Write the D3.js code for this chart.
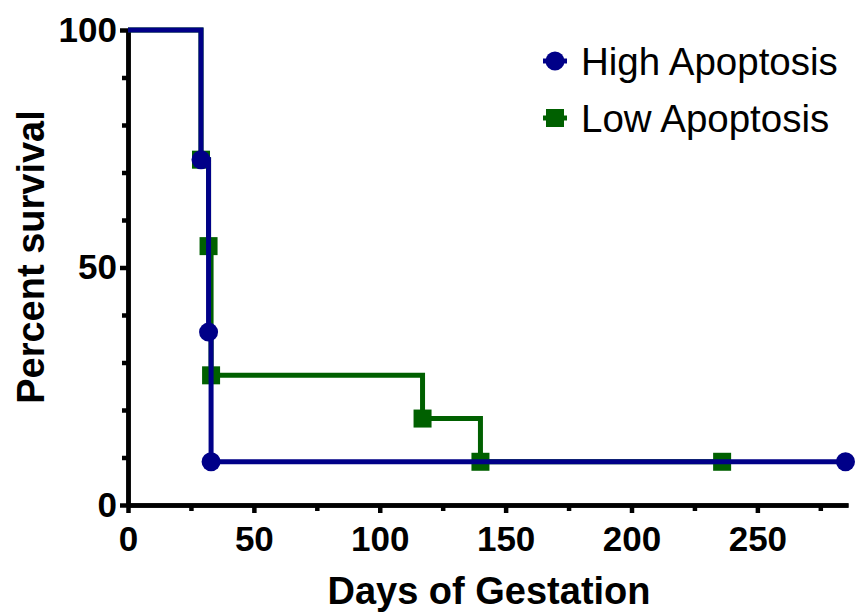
<!DOCTYPE html>
<html>
<head>
<meta charset="utf-8">
<script src="https://cdn.jsdelivr.net/npm/d3@7"></script>
<style>
  html, body { margin: 0; padding: 0; background: #fff; }
  svg { display: block; }
</style>
</head>
<body>
<svg id="chart" width="858" height="615"></svg>
<script>
// ---- Data ----
const seriesNames = ["High Apoptosis", "Low Apoptosis"];
const highDays = [0, 29, 32, 33, 285];
const highSurvival = [100, 72.7, 36.4, 9.1, 9.1];
const lowDays = [0, 29, 32, 33, 117, 140, 236];
const lowSurvival = [100, 72.7, 54.5, 27.3, 18.2, 9.1, 9.1];
const xMajorTicks = [0, 50, 100, 150, 200, 250];
const xMinorTicks = [25, 75, 125, 175, 225, 275];
const yMajorTicks = [0, 50, 100];
const yMinorTicks = [10, 20, 30, 40, 60, 70, 80, 90];
const xTitle = "Days of Gestation";
const yTitle = "Percent survival";

const colors = { high: "#000088", low: "#006000" };
const font = "'Liberation Sans', Arial, sans-serif";

const svg = d3.select("#chart");
const x = d3.scaleLinear().domain([0, 286]).range([128, 848]);
const y = d3.scaleLinear().domain([0, 100]).range([505, 30]);

// ---- Axes ----
function styleAxis(g) {
  g.selectAll(".domain").attr("stroke", "#000").attr("stroke-width", 4.5);
  g.selectAll(".tick line").attr("stroke", "#000").attr("stroke-width", 4.5);
  g.selectAll(".tick text")
    .attr("font-family", font).attr("font-weight", "bold")
    .attr("font-size", 35).attr("fill", "#000");
}

// minor ticks
svg.append("g").attr("transform", `translate(0,${y(0)})`)
  .call(d3.axisBottom(x).tickValues(xMinorTicks).tickSize(6).tickSizeOuter(0).tickFormat(""))
  .call(styleAxis);
svg.append("g").attr("transform", `translate(${x(0)},0)`)
  .call(d3.axisLeft(y).tickValues(yMinorTicks).tickSize(6).tickSizeOuter(0).tickFormat(""))
  .call(styleAxis);

// major ticks
const xAxis = svg.append("g").attr("transform", `translate(0,${y(0)})`)
  .call(d3.axisBottom(x).tickValues(xMajorTicks).tickSize(8).tickSizeOuter(0).tickPadding(5).tickFormat(d3.format("d")))
  .call(styleAxis);
xAxis.selectAll(".tick text").attr("dy", "0.93em");
const yAxis = svg.append("g").attr("transform", `translate(${x(0)},0)`)
  .call(d3.axisLeft(y).tickValues(yMajorTicks).tickSize(8).tickSizeOuter(0).tickPadding(3).tickFormat(d3.format("d")))
  .call(styleAxis);

// axis titles
svg.append("text")
  .attr("x", 489).attr("y", 604)
  .attr("text-anchor", "middle")
  .attr("font-family", font).attr("font-weight", "bold").attr("font-size", 38)
  .text(xTitle);
svg.append("text")
  .attr("transform", `translate(44,257) rotate(-90)`)
  .attr("text-anchor", "middle")
  .attr("font-family", font).attr("font-weight", "bold").attr("font-size", 38)
  .text(yTitle);

// ---- Series ----
const line = d3.line().x(d => x(d[0])).y(d => y(d[1])).curve(d3.curveStepAfter);
const lowData = lowDays.map((d, i) => [d, lowSurvival[i]]);
const highData = highDays.map((d, i) => [d, highSurvival[i]]);

// Low apoptosis (drawn first, behind)
svg.append("path").datum(lowData)
  .attr("d", line).attr("fill", "none")
  .attr("stroke", colors.low).attr("stroke-width", 5);
const sq = 18;
svg.append("g").selectAll("rect").data(lowData.slice(1)).join("rect")
  .attr("x", d => x(d[0]) - sq / 2).attr("y", d => y(d[1]) - sq / 2)
  .attr("width", sq).attr("height", sq)
  .attr("fill", colors.low);

// High apoptosis
svg.append("path").datum(highData)
  .attr("d", line).attr("fill", "none")
  .attr("stroke", colors.high).attr("stroke-width", 5);
svg.append("g").selectAll("circle").data(highData.slice(1)).join("circle")
  .attr("cx", d => x(d[0])).attr("cy", d => y(d[1]))
  .attr("r", 9.5).attr("fill", colors.high);

// ---- Legend ----
const legend = svg.append("g");
const legendItems = [
  { name: seriesNames[0], color: colors.high, shape: "circle", cy: 61 },
  { name: seriesNames[1], color: colors.low, shape: "square", cy: 118 }
];
legendItems.forEach(it => {
  legend.append("line")
    .attr("x1", 543).attr("x2", 567).attr("y1", it.cy).attr("y2", it.cy)
    .attr("stroke", it.color).attr("stroke-width", 5);
  if (it.shape === "circle") {
    legend.append("circle").attr("cx", 555).attr("cy", it.cy).attr("r", 9.5).attr("fill", it.color);
  } else {
    legend.append("rect").attr("x", 555 - sq / 2).attr("y", it.cy - sq / 2)
      .attr("width", sq).attr("height", sq).attr("fill", it.color);
  }
  legend.append("text")
    .attr("x", 581).attr("y", it.cy + 13.5)
    .attr("font-family", font).attr("font-size", 38.5).attr("fill", "#000")
    .text(it.name);
});
</script>
</body>
</html>
